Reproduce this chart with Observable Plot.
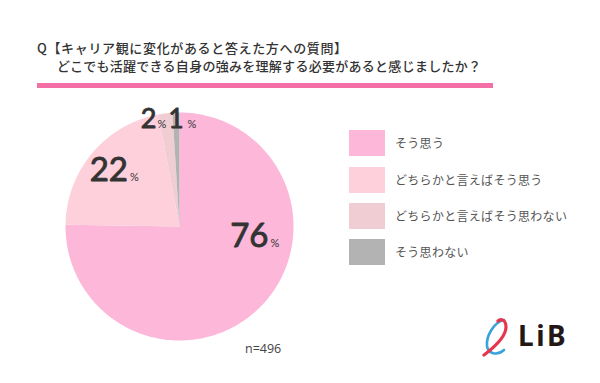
<!DOCTYPE html>
<html><head><meta charset="utf-8">
<script src="https://cdn.jsdelivr.net/npm/d3@7"></script>
<script src="https://cdn.jsdelivr.net/npm/@observablehq/plot@0.6"></script>
<style>
html,body{margin:0;padding:0;background:#fff;}
body{width:600px;height:383px;position:relative;overflow:hidden;font-family:"Noto Sans CJK JP","Noto Sans",sans-serif;color:#333;}
.t{position:absolute;white-space:nowrap;font-size:13px;font-weight:500;line-height:18px;}
#bar{position:absolute;left:37px;top:83px;width:456px;height:5px;background:#F46FA6;}
#pie{position:absolute;left:58.5px;top:105.5px;}
#pie svg{overflow:visible;}
.lg{position:absolute;left:349px;width:36px;height:26px;}
.lt{position:absolute;left:395px;font-size:12px;letter-spacing:0.3px;color:#555;white-space:nowrap;line-height:16px;}
#n{position:absolute;left:245px;top:340px;font-size:12.5px;color:#444;font-family:"Open Sans",sans-serif;}
#logo{position:absolute;left:482px;top:316px;}
#lib{position:absolute;left:518px;top:318px;font-family:"Noto Sans",sans-serif;font-weight:700;font-size:28px;line-height:34px;color:#231815;letter-spacing:2.5px;}
</style></head><body>
<div class="t" id="t1" style="left:37px;top:39px;letter-spacing:0.65px;">Q【キャリア観に変化があると答えた方への質問】</div>
<div class="t" id="t2" style="left:57px;top:57px;letter-spacing:0.28px;">どこでも活躍できる自身の強みを理解する必要があると感じましたか？</div>
<div id="bar"></div>
<div id="pie"></div>
<div id="legend"></div>
<div id="n">n=496</div>
<svg id="logo" width="28" height="42" viewBox="0 0 28 42">
  <path d="M22,4 C12,6 4,20 5,30 C6,38 15,40 22,34" fill="none" stroke="#3BA3DB" stroke-width="2.6" stroke-linecap="round"/>
  <path d="M2,39 C10,33 24,22 24,11 C24,4 19,2 16,5" fill="none" stroke="#E5364E" stroke-width="3.2" stroke-linecap="round"/>
</svg>
<div id="lib">LiB</div>
<script>
// Data
const categories = ["そう思う", "どちらかと言えばそう思う", "どちらかと言えばそう思わない", "そう思わない"];
const values = [76, 22, 2, 1];
const labels = ["76", "22", "2", "1"];
const colors = ["#FCB7D9", "#FDD0DB", "#F0CCD3", "#B3B3B3"];

// Layout (pixel offsets from pie centre for label baselines / right edges)
const R = 114;
const labelLayout = [
  {dx: 89, dy: 20.5, size: 33, pdx: 2},
  {dx: -51.5, dy: -45.5, size: 33, pdx: 2},
  {dx: -23, dy: -98.5, size: 27, pdx: 1},
  {dx: 4, dy: -98.5, size: 26, pdx: 4}
];

const pie = d3.pie().sort(null).value(d => d)(values);
function wedge(a0, a1) {
  const ring = [[0, 0]];
  const n = Math.max(2, Math.ceil((a1 - a0) / (Math.PI / 180)));
  for (let i = 0; i <= n; i++) {
    const a = a0 + (a1 - a0) * i / n;
    ring.push([Math.sin(a), -Math.cos(a)]);
  }
  ring.push([0, 0]);
  return ring;
}
const features = pie.map((p, i) => ({
  type: "Feature",
  properties: {category: categories[i], value: values[i], color: colors[i]},
  geometry: {type: "Polygon", coordinates: [wedge(p.startAngle, p.endAngle)]}
}));
const circle = {type: "Polygon", coordinates: [wedge(0, 2 * Math.PI).slice(1, -1).concat([[0, -1]])]};

const labelData = labels.map((l, i) => ({
  label: l,
  x: labelLayout[i].dx / R,
  y: labelLayout[i].dy / R,
  size: labelLayout[i].size,
  pdx: labelLayout[i].pdx
}));

const chart = Plot.plot({
  width: 240, height: 240,
  margin: 6,
  projection: {type: "identity", domain: circle},
  marks: [
    Plot.geo(features, {fill: d => d.properties.color, stroke: "none"}),
    ...labelData.map(d => Plot.text([d], {
      x: "x", y: "y", text: "label", textAnchor: "end", lineAnchor: "bottom",
      fontSize: d.size, fill: "#333", stroke: "#333", strokeWidth: 0.9,
      fontFamily: "Lato, sans-serif", fontWeight: 400
    })),
    ...labelData.map(d => Plot.text([d], {
      x: "x", y: "y", text: () => "%", textAnchor: "start", lineAnchor: "bottom",
      dx: d.pdx, fontSize: 11, fill: "#333", fontFamily: "Lato, sans-serif"
    }))
  ]
});
document.getElementById("pie").appendChild(chart);

// Legend
const legend = document.getElementById("legend");
const legendTops = [130, 166.5, 203, 238.5];
categories.forEach((c, i) => {
  const sw = document.createElement("div");
  sw.className = "lg";
  sw.style.top = legendTops[i] + "px";
  sw.style.background = colors[i];
  legend.appendChild(sw);
  const tx = document.createElement("div");
  tx.className = "lt";
  tx.style.top = (legendTops[i] + 5) + "px";
  tx.textContent = c;
  legend.appendChild(tx);
});
</script>
</body></html>
